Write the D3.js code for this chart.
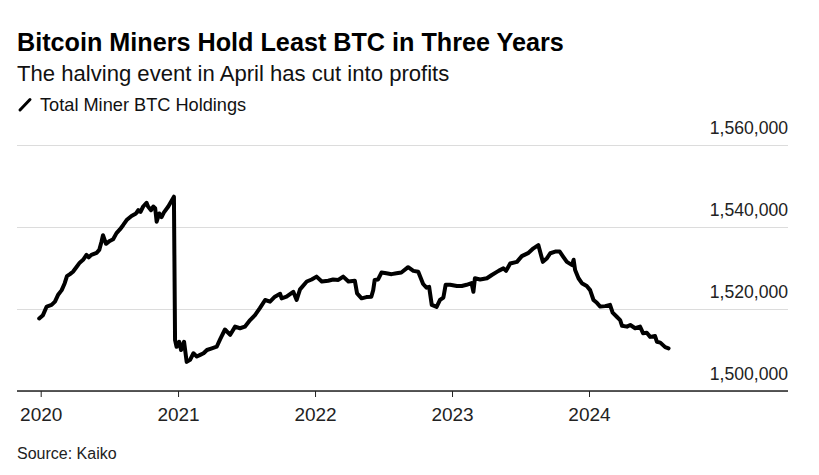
<!DOCTYPE html>
<html>
<head>
<meta charset="utf-8">
<script src="https://cdn.jsdelivr.net/npm/d3@7"></script>
<style>
  html, body { margin: 0; padding: 0; background: #ffffff; }
  svg { display: block; font-family: "Liberation Sans", Arial, Helvetica, sans-serif; }
</style>
</head>
<body>
<svg id="chart" width="819" height="475"></svg>
<script>
const titleText = "Bitcoin Miners Hold Least BTC in Three Years";
const subtitleText = "The halving event in April has cut into profits";
const seriesName = "Total Miner BTC Holdings";
const sourceText = "Source: Kaiko";

const yTicks = [1500000, 1520000, 1540000, 1560000];
const xTickYears = [2020, 2021, 2022, 2023, 2024];

const dates = [
"2019-12-28","2020-01-07","2020-01-17","2020-01-30","2020-02-08","2020-02-16","2020-02-26","2020-03-05","2020-03-11","2020-03-19",
"2020-03-27","2020-04-05","2020-04-14","2020-04-23","2020-05-02","2020-05-08","2020-05-15","2020-05-29","2020-06-05","2020-06-11",
"2020-06-15","2020-06-23","2020-07-03","2020-07-12","2020-07-21","2020-07-30","2020-08-08","2020-08-17","2020-08-30","2020-09-11",
"2020-09-17","2020-09-23","2020-09-30","2020-10-09","2020-10-13","2020-10-21","2020-10-27","2020-11-01","2020-11-05","2020-11-12",
"2020-11-18","2020-11-24","2020-12-06","2020-12-21","2020-12-24","2020-12-28","2021-01-04","2021-01-09","2021-01-17","2021-01-24",
"2021-02-02","2021-02-11","2021-02-20","2021-03-01","2021-03-10","2021-03-19","2021-04-01","2021-04-14","2021-04-23","2021-05-06",
"2021-05-20","2021-06-02","2021-06-15","2021-06-28","2021-07-12","2021-07-25","2021-08-07","2021-08-21","2021-09-03","2021-09-16",
"2021-09-30","2021-10-04","2021-10-17","2021-11-04","2021-11-13","2021-11-22","2021-12-10","2021-12-23","2022-01-05","2022-01-19",
"2022-02-05","2022-02-18","2022-03-04","2022-03-17","2022-03-31","2022-04-17","2022-04-23","2022-05-05","2022-05-18","2022-05-31",
"2022-06-05","2022-06-09","2022-06-18","2022-06-27","2022-07-10","2022-07-24","2022-08-06","2022-08-19","2022-09-06","2022-09-20",
"2022-10-03","2022-10-16","2022-10-25","2022-11-01","2022-11-08","2022-11-21","2022-11-30","2022-12-09","2022-12-15","2022-12-27",
"2023-01-14","2023-01-27","2023-02-09","2023-02-22","2023-02-27","2023-03-03","2023-03-17","2023-04-04","2023-04-17","2023-05-05",
"2023-05-18","2023-05-25","2023-06-05","2023-06-23","2023-07-06","2023-07-24","2023-08-06","2023-08-19","2023-08-26","2023-08-31",
"2023-09-11","2023-09-20","2023-10-03","2023-10-15","2023-10-24","2023-11-03","2023-11-17","2023-11-21","2023-11-25","2023-12-04",
"2023-12-13","2023-12-26","2024-01-04","2024-01-13","2024-01-22","2024-01-31","2024-02-13","2024-02-26","2024-03-04","2024-03-15",
"2024-03-24","2024-03-29","2024-04-11","2024-04-20","2024-05-03","2024-05-16","2024-05-24","2024-06-03","2024-06-12","2024-06-25",
"2024-06-30","2024-07-09","2024-07-22","2024-07-31"
];

const holdings = [
1517700,1518500,1520600,1521000,1521800,1523400,1524600,1526300,1528000,1528500,
1529100,1530200,1531300,1532000,1533200,1532600,1533200,1533700,1534400,1536400,
1538000,1535900,1536600,1537000,1538500,1539400,1540500,1541700,1542700,1543300,
1544100,1543700,1545000,1545900,1545000,1544100,1545000,1544600,1541300,1543300,
1542400,1543500,1545000,1547400,1512400,1510800,1512000,1510000,1512000,1507100,
1507600,1509200,1508400,1508800,1509200,1510000,1510400,1510800,1512600,1515000,
1513700,1515700,1515300,1515700,1517300,1518500,1520200,1522200,1521800,1523000,
1523700,1522600,1523000,1524200,1522200,1524800,1526700,1527200,1527900,1526700,
1526900,1527200,1527100,1527900,1526700,1526900,1523800,1522600,1522900,1523000,
1524600,1527100,1527200,1528900,1528700,1528500,1528700,1528900,1530200,1529300,
1529100,1526100,1525200,1525400,1521000,1520500,1522200,1522800,1525900,1525900,
1525600,1525600,1525900,1526300,1524200,1527500,1527200,1527500,1528300,1529300,
1529900,1529300,1531100,1531500,1532900,1533700,1534800,1535600,1533200,1531500,
1532400,1533600,1534000,1534000,1532800,1531500,1530700,1532000,1529500,1527500,
1526300,1525600,1524600,1522200,1521500,1520600,1520700,1521000,1519100,1518100,
1517300,1515900,1515700,1516100,1515300,1515700,1514100,1514200,1513200,1513400,
1512000,1511800,1510700,1510400
];

const parse = d3.timeParse("%Y-%m-%d");
const data = dates.map((d, i) => ({ date: parse(d), value: holdings[i] }));

const svg = d3.select("#chart");

const plotLeft = 17, plotRight = 788;
const x = d3.scaleTime()
  .domain([new Date(2020, 0, 1), new Date(2024, 0, 1)])
  .range([40.7, 589]);
const y = d3.scaleLinear()
  .domain([1500000, 1560000])
  .range([391, 145]);

// Title block
svg.append("text").attr("x", 17).attr("y", 51)
  .attr("font-size", 25.2).attr("font-weight", "bold").attr("fill", "#000")
  .text(titleText);
svg.append("text").attr("x", 17).attr("y", 81)
  .attr("font-size", 22.1).attr("fill", "#111")
  .text(subtitleText);

// Legend
svg.append("line").attr("x1", 20).attr("y1", 110).attr("x2", 30).attr("y2", 99.5)
  .attr("stroke", "#000").attr("stroke-width", 3).attr("stroke-linecap", "round");
svg.append("text").attr("x", 40).attr("y", 111)
  .attr("font-size", 18.2).attr("fill", "#111")
  .text(seriesName);

// Gridlines + y labels
const yAxis = d3.axisRight(y).tickValues(yTicks)
  .tickSize(-(plotRight - plotLeft))
  .tickFormat(d3.format(","));
const gy = svg.append("g").attr("transform", `translate(${plotRight},0)`).call(yAxis);
gy.select(".domain").remove();
gy.selectAll(".tick line").attr("stroke", "#dcdcdc").attr("stroke-width", 1.2);
gy.selectAll(".tick text")
  .attr("x", 0).attr("dy", -11.5)
  .attr("text-anchor", "end")
  .attr("font-size", 17.6).attr("fill", "#222")
  .attr("font-family", "Liberation Sans, Arial, sans-serif");

// X axis
const xAxis = d3.axisBottom(x)
  .tickValues(xTickYears.map(yr => new Date(yr, 0, 1)))
  .tickSize(6).tickSizeOuter(0)
  .tickFormat(d3.timeFormat("%Y"));
const gx = svg.append("g").attr("transform", "translate(0,391)").call(xAxis);
gx.select(".domain").remove();
gx.selectAll(".tick line").attr("stroke", "#222").attr("stroke-width", 1);
gx.selectAll(".tick text")
  .attr("y", 30).attr("dy", 0)
  .attr("font-size", 19).attr("fill", "#222")
  .attr("font-family", "Liberation Sans, Arial, sans-serif");
svg.append("line")
  .attr("x1", plotLeft).attr("x2", plotRight)
  .attr("y1", y(1500000)).attr("y2", y(1500000))
  .attr("stroke", "#222").attr("stroke-width", 1.5);

// Series line
const line = d3.line().x(d => x(d.date)).y(d => y(d.value));
svg.append("path").datum(data)
  .attr("d", line)
  .attr("fill", "none")
  .attr("stroke", "#000")
  .attr("stroke-width", 4)
  .attr("stroke-linejoin", "round")
  .attr("stroke-linecap", "round");

// Source
svg.append("text").attr("x", 17).attr("y", 459)
  .attr("font-size", 16).attr("fill", "#222")
  .text(sourceText);
</script>
</body>
</html>
